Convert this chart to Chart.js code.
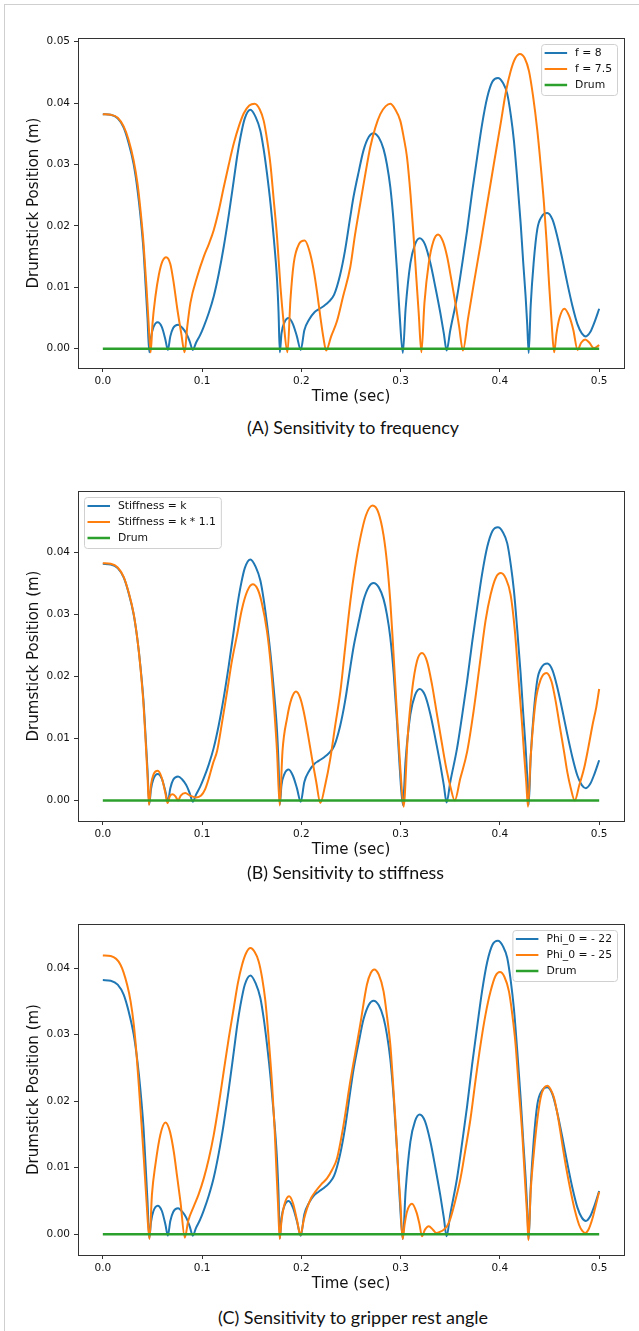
<!DOCTYPE html>
<html>
<head>
<meta charset="utf-8">
<script src="https://cdn.jsdelivr.net/npm/chart.js@4.4.1/dist/chart.umd.min.js"></script>
<style>
  html, body { margin: 0; padding: 0; background: #fff; }
  body { width: 639px; height: 1331px; position: relative; overflow: hidden; }
  #frame { position: absolute; left: 4px; top: 4px; right: 0; bottom: 0; border-left: 1px solid #cfcfcf; border-top: 1px solid #cfcfcf; }
  canvas { position: absolute; left: 0; }
  .cap { position: absolute; font-family: Lato, "Open Sans", sans-serif; font-size: 17px; line-height: 20px; color: #111; white-space: nowrap; transform-origin: left center; }
</style>
</head>
<body>
<div id="frame"></div>
<canvas id="cA" width="639" height="410" style="top:0px"></canvas>
<canvas id="cB" width="639" height="413" style="top:450px"></canvas>
<canvas id="cC" width="639" height="417" style="top:880px"></canvas>
<div class="cap" id="capA" data-w="212" style="left:247px; top:418px"></div>
<div class="cap" id="capB" data-w="197" style="left:247px; top:863px"></div>
<div class="cap" id="capC" data-w="270" style="left:218px; top:1308px"></div>
<script>
// ---------------- DATA ----------------
const xTicks = [0, 0.1, 0.2, 0.3, 0.4, 0.5];
const yTicksA = [0, 0.01, 0.02, 0.03, 0.04, 0.05];
const yTicksB = [0, 0.01, 0.02, 0.03, 0.04];
const yTicksC = [0, 0.01, 0.02, 0.03, 0.04];

const seriesNamesA = ['f = 8', 'f = 7.5', 'Drum'];
const seriesNamesB = ['Stiffness = k', 'Stiffness = k * 1.1', 'Drum'];
const seriesNamesC = ['Phi_0 = - 22', 'Phi_0 = - 25', 'Drum'];
const captions = ['(A) Sensitivity to frequency', '(B) Sensitivity to stiffness', '(C) Sensitivity to gripper rest angle'];

// baseline trajectory (f = 8, stiffness = k, Phi_0 = -22) : [time (s), position (m)]
const baseCurve = [[0.000,0.0382],[0.008,0.0381],[0.015,0.0375],[0.021,0.0360],[0.026,0.0335],[0.031,0.0301],[0.035,0.0258],[0.038,0.0215],[0.041,0.0160],[0.043,0.0106],[0.045,0.0050],[0.0468,-0.0006],[0.0485,0.0018],[0.051,0.0035],[0.0553,0.0043],[0.0595,0.0035],[0.063,0.0015],[0.0655,-0.0002],[0.068,0.0020],[0.071,0.0034],[0.0758,0.0039],[0.080,0.0034],[0.084,0.0025],[0.0875,0.0012],[0.0906,-0.0002],[0.094,0.0010],[0.098,0.0022],[0.1017,0.0036],[0.1067,0.0058],[0.1117,0.0085],[0.1168,0.0122],[0.1218,0.0166],[0.1269,0.0218],[0.1319,0.0274],[0.1355,0.0315],[0.1386,0.0344],[0.1430,0.0375],[0.1487,0.0389],[0.1540,0.0377],[0.1587,0.0355],[0.1620,0.0325],[0.1654,0.0285],[0.1690,0.0235],[0.1721,0.0182],[0.1755,0.0112],[0.1770,0.0060],[0.1783,-0.0006],[0.1800,0.0025],[0.1830,0.0043],[0.1872,0.0050],[0.1915,0.0040],[0.1955,0.0020],[0.1994,-0.0002],[0.2030,0.0030],[0.2080,0.0048],[0.2130,0.0059],[0.2174,0.0064],[0.2230,0.0070],[0.2280,0.0077],[0.2330,0.0088],[0.2390,0.0120],[0.2440,0.0160],[0.2493,0.0215],[0.2525,0.0247],[0.2580,0.0290],[0.2626,0.0323],[0.2680,0.0345],[0.2727,0.0351],[0.2780,0.0344],[0.2828,0.0325],[0.2862,0.0300],[0.2896,0.0263],[0.2930,0.0205],[0.2963,0.0128],[0.2990,0.0055],[0.3022,-0.0007],[0.3050,0.0065],[0.3098,0.0139],[0.3145,0.0170],[0.3192,0.0180],[0.3245,0.0170],[0.3300,0.0139],[0.3350,0.0100],[0.3400,0.0058],[0.3435,0.0025],[0.3463,-0.0003],[0.3500,0.0030],[0.3569,0.0085],[0.3620,0.0138],[0.3670,0.0193],[0.3720,0.0255],[0.3771,0.0312],[0.3820,0.0365],[0.3872,0.0409],[0.3925,0.0435],[0.3980,0.0441],[0.4030,0.0433],[0.4074,0.0415],[0.4110,0.0380],[0.4141,0.0339],[0.4175,0.0275],[0.4209,0.0204],[0.4235,0.0140],[0.4259,0.0085],[0.4275,0.0040],[0.4290,-0.0007],[0.4310,0.0070],[0.4340,0.0140],[0.4377,0.0195],[0.4420,0.0215],[0.4478,0.0221],[0.4530,0.0210],[0.4579,0.0182],[0.4630,0.0145],[0.4680,0.0106],[0.4730,0.0070],[0.4781,0.0040],[0.4825,0.0025],[0.4866,0.0020],[0.4910,0.0027],[0.4950,0.0042],[0.5000,0.0065]];

// f = 7.5
const freqCurve = [[0.000,0.0382],[0.008,0.0381],[0.015,0.0376],[0.021,0.0362],[0.026,0.0340],[0.031,0.0307],[0.035,0.0268],[0.038,0.0225],[0.041,0.0172],[0.044,0.0100],[0.046,0.0045],[0.0482,-0.0006],[0.0500,0.0040],[0.0530,0.0085],[0.0564,0.0120],[0.0600,0.0142],[0.0638,0.0149],[0.0680,0.0138],[0.0715,0.0106],[0.0750,0.0065],[0.0790,0.0025],[0.0824,-0.0006],[0.0850,0.0035],[0.0883,0.0075],[0.0950,0.0117],[0.1017,0.0150],[0.1067,0.0170],[0.1117,0.0193],[0.1168,0.0225],[0.1218,0.0263],[0.1269,0.0300],[0.1319,0.0334],[0.1370,0.0362],[0.1419,0.0383],[0.1475,0.0396],[0.1530,0.0399],[0.1580,0.0390],[0.1621,0.0371],[0.1655,0.0340],[0.1688,0.0301],[0.1720,0.0245],[0.1755,0.0182],[0.1790,0.0100],[0.1822,0.0042],[0.1860,-0.0006],[0.1890,0.0080],[0.1923,0.0139],[0.1975,0.0170],[0.2034,0.0176],[0.2080,0.0160],[0.2124,0.0128],[0.2160,0.0090],[0.2191,0.0052],[0.2220,0.0020],[0.2250,-0.0003],[0.2300,0.0020],[0.2359,0.0045],[0.2420,0.0085],[0.2493,0.0133],[0.2540,0.0185],[0.2593,0.0236],[0.2645,0.0285],[0.2694,0.0328],[0.2745,0.0360],[0.2795,0.0382],[0.2850,0.0395],[0.2896,0.0399],[0.2945,0.0390],[0.2997,0.0371],[0.3030,0.0345],[0.3064,0.0312],[0.3100,0.0250],[0.3131,0.0182],[0.3158,0.0115],[0.3182,0.0058],[0.3209,-0.0006],[0.3240,0.0075],[0.3283,0.0139],[0.3330,0.0175],[0.3377,0.0186],[0.3425,0.0175],[0.3468,0.0150],[0.3510,0.0113],[0.3552,0.0074],[0.3590,0.0035],[0.3627,-0.0003],[0.3680,0.0050],[0.3737,0.0106],[0.3805,0.0170],[0.3872,0.0236],[0.3940,0.0302],[0.4007,0.0366],[0.4060,0.0418],[0.4108,0.0452],[0.4155,0.0473],[0.4202,0.0480],[0.4250,0.0473],[0.4293,0.0452],[0.4335,0.0410],[0.4377,0.0355],[0.4410,0.0300],[0.4444,0.0236],[0.4470,0.0175],[0.4495,0.0106],[0.4520,0.0045],[0.4546,-0.0006],[0.4570,0.0025],[0.4600,0.0050],[0.4650,0.0065],[0.4700,0.0052],[0.4740,0.0030],[0.4782,-0.0002],[0.4820,0.0010],[0.4860,0.0015],[0.4900,0.0010],[0.4945,0.0001],[0.4975,0.0003],[0.5000,0.0006]];

// stiffness = k * 1.1
const stiffCurve = [[0.000,0.0383],[0.008,0.0382],[0.015,0.0376],[0.021,0.0361],[0.026,0.0336],[0.031,0.0302],[0.035,0.0258],[0.038,0.0213],[0.041,0.0155],[0.043,0.0100],[0.045,0.0040],[0.0465,-0.0007],[0.0485,0.0025],[0.0510,0.0042],[0.0554,0.0048],[0.0595,0.0036],[0.0630,0.0012],[0.0652,-0.0004],[0.0675,0.0007],[0.0705,0.0010],[0.0735,0.0006],[0.0758,0.0000],[0.0785,0.0008],[0.0830,0.0012],[0.0880,0.0008],[0.0940,0.0005],[0.0990,0.0008],[0.1030,0.0018],[0.1070,0.0037],[0.1110,0.0060],[0.1151,0.0080],[0.1200,0.0125],[0.1252,0.0176],[0.1300,0.0225],[0.1352,0.0267],[0.1400,0.0308],[0.1455,0.0338],[0.1510,0.0349],[0.1560,0.0341],[0.1600,0.0320],[0.1654,0.0273],[0.1690,0.0222],[0.1721,0.0160],[0.1755,0.0079],[0.1782,-0.0008],[0.1810,0.0080],[0.1856,0.0133],[0.1900,0.0164],[0.1946,0.0176],[0.1990,0.0165],[0.2023,0.0144],[0.2065,0.0108],[0.2107,0.0068],[0.2150,0.0030],[0.2191,-0.0004],[0.2240,0.0025],[0.2292,0.0068],[0.2340,0.0120],[0.2393,0.0176],[0.2440,0.0245],[0.2493,0.0321],[0.2540,0.0375],[0.2593,0.0423],[0.2650,0.0460],[0.2717,0.0476],[0.2775,0.0465],[0.2828,0.0428],[0.2865,0.0380],[0.2896,0.0321],[0.2920,0.0260],[0.2946,0.0187],[0.2970,0.0120],[0.2997,0.0052],[0.3030,-0.0010],[0.3070,0.0100],[0.3114,0.0176],[0.3165,0.0225],[0.3215,0.0238],[0.3265,0.0225],[0.3316,0.0187],[0.3365,0.0140],[0.3418,0.0090],[0.3460,0.0052],[0.3502,0.0022],[0.3545,0.0000],[0.3600,0.0035],[0.3670,0.0079],[0.3740,0.0150],[0.3805,0.0230],[0.3855,0.0290],[0.3906,0.0332],[0.3960,0.0360],[0.4010,0.0367],[0.4060,0.0358],[0.4108,0.0332],[0.4150,0.0275],[0.4192,0.0187],[0.4220,0.0130],[0.4242,0.0079],[0.4265,0.0030],[0.4283,-0.0010],[0.4310,0.0070],[0.4360,0.0160],[0.4410,0.0195],[0.4468,0.0206],[0.4520,0.0192],[0.4562,0.0160],[0.4605,0.0118],[0.4646,0.0079],[0.4680,0.0045],[0.4714,0.0020],[0.4754,0.0000],[0.4800,0.0025],[0.4848,0.0052],[0.4890,0.0085],[0.4933,0.0122],[0.4970,0.0150],[0.5000,0.0180]];

// Phi_0 = -25
const phiCurve = [[0.000,0.0419],[0.008,0.0418],[0.0178,0.0405],[0.0245,0.0375],[0.0280,0.0350],[0.0312,0.0315],[0.0340,0.0270],[0.0362,0.0225],[0.0390,0.0165],[0.0413,0.0114],[0.0440,0.0050],[0.0470,-0.0007],[0.0495,0.0060],[0.0530,0.0105],[0.0580,0.0150],[0.0631,0.0168],[0.0675,0.0155],[0.0715,0.0124],[0.0750,0.0085],[0.0782,0.0049],[0.0826,-0.0005],[0.0860,0.0020],[0.0916,0.0042],[0.0965,0.0060],[0.1017,0.0084],[0.1067,0.0113],[0.1117,0.0149],[0.1168,0.0195],[0.1218,0.0245],[0.1269,0.0295],[0.1319,0.0340],[0.1360,0.0377],[0.1403,0.0405],[0.1445,0.0423],[0.1487,0.0430],[0.1530,0.0424],[0.1570,0.0410],[0.1605,0.0385],[0.1638,0.0350],[0.1670,0.0295],[0.1705,0.0225],[0.1730,0.0160],[0.1748,0.0099],[0.1765,0.0045],[0.1782,-0.0007],[0.1800,0.0020],[0.1830,0.0045],[0.1876,0.0057],[0.1915,0.0047],[0.1955,0.0022],[0.1990,-0.0001],[0.2025,0.0022],[0.2057,0.0039],[0.2100,0.0055],[0.2141,0.0064],[0.2200,0.0075],[0.2258,0.0084],[0.2310,0.0097],[0.2359,0.0114],[0.2420,0.0160],[0.2493,0.0230],[0.2540,0.0270],[0.2593,0.0315],[0.2660,0.0375],[0.2700,0.0393],[0.2734,0.0398],[0.2780,0.0390],[0.2828,0.0365],[0.2865,0.0325],[0.2896,0.0285],[0.2920,0.0235],[0.2946,0.0174],[0.2970,0.0110],[0.2997,0.0049],[0.3020,-0.0007],[0.3040,0.0015],[0.3064,0.0034],[0.3114,0.0046],[0.3160,0.0033],[0.3190,0.0015],[0.3215,-0.0003],[0.3245,0.0007],[0.3283,0.0012],[0.3325,0.0007],[0.3360,0.0002],[0.3400,0.0004],[0.3434,0.0007],[0.3470,0.0013],[0.3502,0.0024],[0.3550,0.0050],[0.3603,0.0084],[0.3650,0.0125],[0.3704,0.0174],[0.3755,0.0232],[0.3805,0.0285],[0.3855,0.0330],[0.3906,0.0365],[0.3955,0.0388],[0.4000,0.0394],[0.4045,0.0387],[0.4091,0.0365],[0.4125,0.0330],[0.4158,0.0285],[0.4190,0.0220],[0.4226,0.0149],[0.4255,0.0075],[0.4276,0.0024],[0.4287,-0.0009],[0.4310,0.0065],[0.4343,0.0124],[0.4375,0.0170],[0.4410,0.0205],[0.4445,0.0220],[0.4478,0.0223],[0.4510,0.0218],[0.4545,0.0205],[0.4590,0.0172],[0.4630,0.0134],[0.4670,0.0098],[0.4714,0.0064],[0.4755,0.0036],[0.4798,0.0014],[0.4830,0.0005],[0.4859,0.0002],[0.4895,0.0008],[0.4933,0.0024],[0.4965,0.0043],[0.5000,0.0064]];

// drum surface
const drumCurve = [[0, 0], [0.5, 0]];

// ---------------- RENDERING ----------------
Chart.defaults.font.family = '"DejaVu Sans", sans-serif';
Chart.defaults.color = '#111';

const C_BLUE = '#1f77b4', C_ORANGE = '#ff7f0e', C_GREEN = '#2ca02c';
const toPts = arr => arr.map(p => ({ x: p[0], y: p[1] }));

const frameAndLegend = {
  id: 'frameAndLegend',
  afterDatasetsDraw(chart, args, o) {
    const ctx = chart.ctx, a = chart.chartArea;
    ctx.save();
    // full box spines
    ctx.strokeStyle = '#333';
    ctx.lineWidth = 1;
    ctx.strokeRect(Math.round(a.left) + 0.5, Math.round(a.top) + 0.5,
                   Math.round(a.right - a.left), Math.round(a.bottom - a.top));
    // legend box
    ctx.font = '10.8px "DejaVu Sans"';
    const ds = chart.data.datasets;
    let maxW = 0;
    ds.forEach(d => { maxW = Math.max(maxW, ctx.measureText(d.label).width); });
    const w = 34 + maxW + 5, h = 51;
    const x = o.corner === 'tr' ? a.right - 7 - w : a.left + 6;
    const y = a.top + 6;
    ctx.beginPath();
    ctx.roundRect(x + 0.5, y + 0.5, w, h, 3);
    ctx.fillStyle = 'rgba(255,255,255,0.85)';
    ctx.fill();
    ctx.strokeStyle = '#d0d0d0';
    ctx.stroke();
    ds.forEach((d, i) => {
      const cy = y + 9 + i * 16;
      ctx.beginPath();
      ctx.strokeStyle = d.borderColor;
      ctx.lineWidth = d.legendWidth;
      ctx.moveTo(x + 3.5, cy);
      ctx.lineTo(x + 26, cy);
      ctx.stroke();
      ctx.fillStyle = '#111';
      ctx.textBaseline = 'middle';
      ctx.textAlign = 'left';
      ctx.fillText(d.label, x + 34, cy + 0.5);
    });
    ctx.restore();
  }
};

function makeChart(id, names, curveA, curveB, yMin, yMax, yTicks, padTop, corner) {
  const tickFont = { size: 10.5 };
  new Chart(document.getElementById(id), {
    type: 'line',
    data: {
      datasets: [
        { label: names[0], data: toPts(curveA), borderColor: C_BLUE, borderWidth: 2, legendWidth: 2, order: 2 },
        { label: names[1], data: toPts(curveB), borderColor: C_ORANGE, borderWidth: 2, legendWidth: 2, order: 1 },
        { label: names[2], data: toPts(drumCurve), borderColor: C_GREEN, borderWidth: 2.5, legendWidth: 2.5, order: 0, cubicInterpolationMode: 'default', tension: 0 }
      ]
    },
    options: {
      responsive: false,
      animation: false,
      maintainAspectRatio: false,
      events: [],
      elements: {
        point: { radius: 0 },
        line: { cubicInterpolationMode: 'monotone', fill: false, borderCapStyle: 'butt', borderJoinStyle: 'round' }
      },
      layout: { padding: { left: 0, right: 15, top: padTop, bottom: 0 } },
      plugins: {
        legend: { display: false },
        tooltip: { enabled: false },
        frameAndLegend: { corner: corner }
      },
      scales: {
        x: {
          type: 'linear', min: -0.025, max: 0.525,
          afterBuildTicks: s => { s.ticks = xTicks.map(v => ({ value: v })); },
          afterFit: s => { s.height = 42; },
          ticks: { callback: v => v.toFixed(1), font: tickFont, color: '#111', padding: 3, maxRotation: 0, autoSkip: false },
          grid: { drawOnChartArea: false, drawTicks: true, tickLength: 4, color: '#333', lineWidth: 1 },
          border: { display: false },
          title: { display: true, text: 'Time (sec)', font: { size: 15 }, color: '#111', padding: { top: 0, bottom: 4 } }
        },
        y: {
          type: 'linear', min: yMin, max: yMax,
          afterBuildTicks: s => { s.ticks = yTicks.map(v => ({ value: v })); },
          afterFit: s => { s.width = 78; },
          ticks: { callback: v => v.toFixed(2), font: tickFont, color: '#111', padding: 4, autoSkip: false },
          grid: { drawOnChartArea: false, drawTicks: true, tickLength: 4, color: '#333', lineWidth: 1 },
          border: { display: false },
          title: { display: true, text: 'Drumstick Position (m)', font: { size: 15 }, color: '#111', padding: { top: 25.6, bottom: 0 } }
        }
      }
    },
    plugins: [frameAndLegend]
  });
}

makeChart('cA', seriesNamesA, baseCurve, freqCurve, -0.00315, 0.0506, yTicksA, 38, 'tr');
makeChart('cB', seriesNamesB, baseCurve, stiffCurve, -0.0033, 0.04995, yTicksB, 41, 'tl');
makeChart('cC', seriesNamesC, baseCurve, phiCurve, -0.00311, 0.04662, yTicksC, 44, 'tr');

// captions
['capA', 'capB', 'capC'].forEach((id, i) => { document.getElementById(id).textContent = captions[i]; });
function fitCaps() {
  document.querySelectorAll('.cap').forEach(el => {
    el.style.transform = 'none';
    const w = el.getBoundingClientRect().width;
    if (w > 0) el.style.transform = 'scaleX(' + (parseFloat(el.dataset.w) / w) + ')';
  });
}
fitCaps();
if (document.fonts && document.fonts.ready) document.fonts.ready.then(fitCaps);
</script>
</body>
</html>
